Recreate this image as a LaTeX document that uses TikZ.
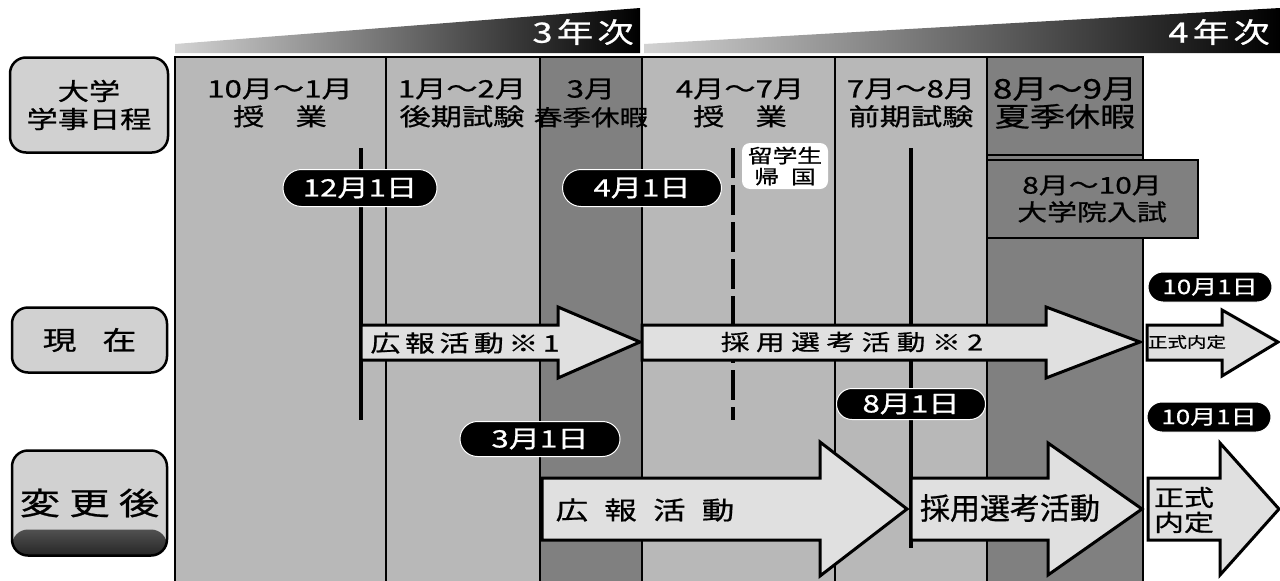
\documentclass[tikz,border=0pt]{standalone}
\usepackage{fontspec}
\setmainfont{Noto Sans CJK JP}[FakeBold=0.8]
\newfontfamily\jpflat[FakeStretch=1.3, FakeBold=0.8]{Noto Sans CJK JP}
\usepackage{tikz}
\usetikzlibrary{positioning, shapes.misc}
\definecolor{lightcell}{gray}{0.72}
\definecolor{darkcell}{gray}{0.50}
\definecolor{arrowfill}{gray}{0.88}
\definecolor{boxfill}{gray}{0.82}
\tikzstyle{rowbox} = [draw, line width=2.5pt, rounded corners=16pt, fill=boxfill, inner sep=0pt, align=center, font=\jpflat\fontsize{24}{28}\selectfont]
\tikzstyle{colhead} = [inner sep=0pt, align=center, font=\jpflat\fontsize{24}{28}\selectfont]
\tikzstyle{grid} = [line width=2.5pt]
\tikzstyle{marker} = [line width=3.5pt]
\tikzstyle{blockarrow} = [draw, line width=3pt, fill=arrowfill, line join=miter]
\tikzstyle{datepill} = [rounded rectangle, fill=black, draw=white, line width=1pt, text=white, inner sep=0pt, font=\jpflat\fontsize{24}{24}\selectfont]
\tikzstyle{smallpill} = [datepill, minimum width=124pt, minimum height=30pt, font=\jpflat\fontsize{20}{20}\selectfont]
\tikzstyle{yeartag} = [text=white, anchor=east, inner sep=0pt, font=\jpflat\addfontfeature{LetterSpace=15}\fontsize{28}{28}\selectfont]
\tikzstyle{arrowtext} = [inner sep=0pt, font=\jpflat\addfontfeature{LetterSpace=20}\fontsize{23}{23}\selectfont]

\begin{document}
\begin{tikzpicture}[x=1pt, y=-1pt]
\useasboundingbox (0,0) rectangle (1280,581);

% year bands
\shade[left color=gray!35, middle color=black, right color=black] (175,53) -- (175,44) -- (640,8) -- (640,53) -- cycle;
\shade[left color=gray!35, middle color=black, right color=black] (644,53) -- (644,44) -- (1280,8) -- (1280,53) -- cycle;
\node[yeartag] (y3) at (634,32) {3年次};
\node[yeartag] (y4) at (1270,32) {4年次};

% columns of the calendar
\fill[lightcell] (175,57) rectangle (1143,581);
\fill[darkcell] (540,57) rectangle (642,581);
\fill[darkcell] (987,57) rectangle (1143,581);
\draw[grid] (175,581) -- (175,57) -- (1143,57) -- (1143,581);
\foreach \x in {386,540,642,835,987}
  \draw[grid] (\x,57) -- (\x,581);
\draw[grid] (987,155) -- (1143,155);

\node[colhead] (hA) at (280,103) {10月〜1月\\授　業};
\node[colhead] (hB) at (462,103) {1月〜2月\\後期試験};
\node[colhead, font=\jpflat\fontsize{22}{28}\selectfont] (hC) at (591,103) {{\fontsize{24}{28}\selectfont 3月}\\春季休暇};
\node[colhead] (hD) at (740,103) {4月〜7月\\授　業};
\node[colhead] (hE) at (911,103) {7月〜8月\\前期試験};
\node[colhead, font=\jpflat\fontsize{27}{28}\selectfont] (hF) at (1065,103) {8月〜9月\\夏季休暇};

\draw[grid, fill=darkcell] (987,160) rectangle (1198,238);
\node[colhead, font=\jpflat\fontsize{23}{27}\selectfont] (exam) at (1092,199) {8月〜10月\\大学院入試};

% date lines
\coordinate (m12top) at (361,148);
\coordinate (m12bot) at (361,420);
\coordinate (m08top) at (911,148);
\coordinate (m08bot) at (911,548);
\coordinate (rettop) at (733,148);
\coordinate (retbot) at (733,420);
\draw[marker] (m12top) -- (m12bot);
\draw[marker] (m08top) -- (m08bot);
\draw[marker, dash pattern=on 30pt off 7pt] (rettop) -- (retbot);

\node[fill=white, rounded corners=8pt, minimum width=86pt, minimum height=46pt, inner sep=0pt, align=center, font=\jpflat\fontsize{19}{21}\selectfont] (ret) at (785,166) {留学生\\帰\hspace{12pt}国};

% now
\draw[blockarrow] (361,325) -- (558,325) -- (558,307) -- (640,342) -- (558,378) -- (558,360) -- (361,360) -- cycle;
\draw[blockarrow] (642,325) -- (1046,325) -- (1046,307) -- (1140,342) -- (1046,378) -- (1046,360) -- (642,360) -- cycle;
\draw[blockarrow] (1147,325) -- (1222,325) -- (1222,310) -- (1278,342) -- (1222,376) -- (1222,360) -- (1147,360) -- cycle;
\node[arrowtext] (pr1) at (465,343) {広報活動※1};
\node[arrowtext, font=\jpflat\addfontfeature{LetterSpace=30}\fontsize{22}{22}\selectfont] (sel1) at (852,342) {採用選考活動※2};
\node[inner sep=0pt, font=\jpflat\fontsize{15}{15}\selectfont] (nt1) at (1187,342) {正式内定};

% after the change
\draw[blockarrow] (542,478) -- (820,478) -- (820,442) -- (907,509) -- (820,576) -- (820,540) -- (542,540) -- cycle;
\draw[blockarrow] (911,478) -- (1048,478) -- (1048,443) -- (1142,509) -- (1048,575) -- (1048,540) -- (911,540) -- cycle;
\draw[blockarrow] (1148,478) -- (1220,478) -- (1220,443) -- (1279,509) -- (1220,575) -- (1220,540) -- (1148,540) -- cycle;
\node[arrowtext, font=\jpflat\addfontfeature{LetterSpace=65}\fontsize{25}{25}\selectfont] (pr2) at (645,510) {広報活動};
\node[inner sep=0pt, font=\fontsize{30}{30}\selectfont] (sel2) at (1010,508) {採用選考活動};
\node[inner sep=0pt, align=center, font=\jpflat\fontsize{23}{25}\selectfont] (nt2) at (1184,510) {正式\\内定};

% dates
\node[datepill, minimum width=154pt, minimum height=37pt] (d1201) at (360,188) {12月1日};
\node[datepill, minimum width=159pt, minimum height=37pt] (d0401) at (642,188) {4月1日};
\node[smallpill] (d1001a) at (1210,287) {10月1日};
\node[datepill, minimum width=160pt, minimum height=35pt] (d0301) at (540,439) {3月1日};
\node[datepill, minimum width=149pt, minimum height=31pt] (d0801) at (911,404) {8月1日};
\node[smallpill] (d1001b) at (1209,417) {10月1日};

% rows
\node[rowbox, minimum width=158pt, minimum height=95pt] (sched) at (89,105) {大学\\学事日程};
\node[rowbox, minimum width=155pt, minimum height=65pt, font=\jpflat\fontsize{26}{26}\selectfont] (now) at (89.5,340) {現\hspace{26pt}在};
\node[rowbox, minimum width=155pt, minimum height=105pt, font=\jpflat\addfontfeature{LetterSpace=30}\fontsize{31}{31}\selectfont,
  path picture={\shade[top color=boxfill, bottom color=black!85] ([yshift=26pt]path picture bounding box.south west) rectangle (path picture bounding box.south east);}] (after) at (89.5,503) {変更後};
\end{tikzpicture}
\end{document}
